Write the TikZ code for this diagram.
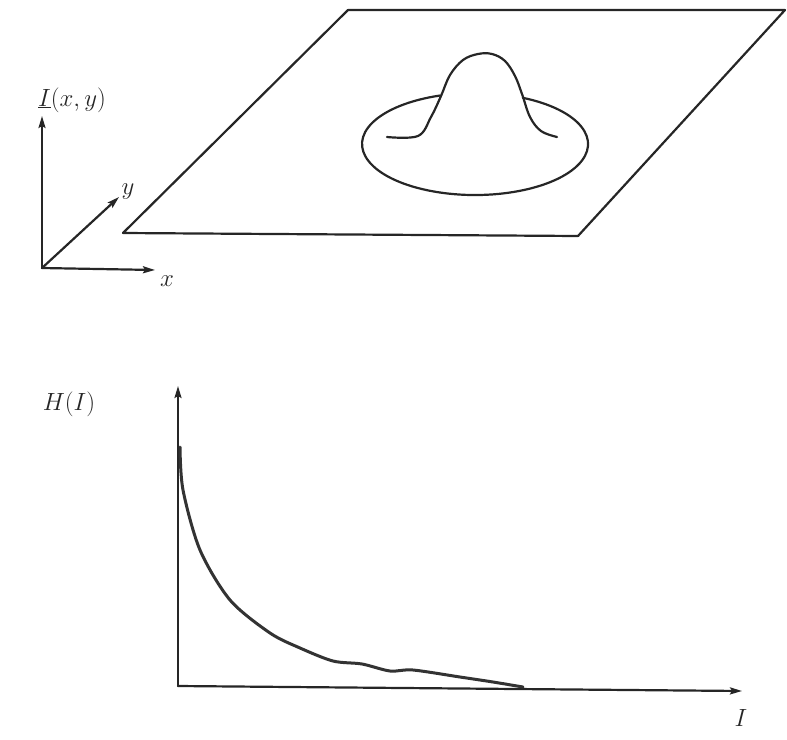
\documentclass[tikz,border=0pt]{standalone}
\usetikzlibrary{arrows.meta}
\begin{document}
\begin{tikzpicture}[x=1pt,y=-1pt,line join = round, line cap = round, >={Stealth[length=12pt,width=7pt,inset=2pt]}, scale=1]
                \tikzset{ln/.style={line width=2.2pt,draw=black!85},
                         crv/.style={line width=3pt,draw=black!80},
                         lbl/.style={font=\fontsize{26}{30}\selectfont,text=black!85,inner sep=0pt}}
                \useasboundingbox (0,0) rectangle (787,739);
                
                % surface with the blob
                \path(123,233)coordinate(P1) (348,10)coordinate(P2) (785,10)coordinate(P3) (578,236)coordinate(P4);
                \draw[ln](P1)--(P2)--(P3)--(P4)--cycle;
                \path(522.8,97.8)coordinate(E0);
                \draw[ln](E0)arc[start angle=-65,end angle=252,x radius=113,y radius=51];
                \draw[ln]plot[smooth,tension=0.6]coordinates{(387,137)(418,136)(431,117)(441,96)(450,75)(463,60)(478,54)(492,54)(505,61)(515,76)(522,94)(530,117)(541,131)(557,137)};
                
                % axes of the image
                \path(42,268)coordinate(O)(42,116)coordinate(Z)(119,197)coordinate(Yt)(155,270)coordinate(Xt);
                \foreach \t in {Z,Yt,Xt}{
                    \draw[ln,->](O)--(\t);	}
                \node[lbl](zlab)at(72,100){$\underline{I}(x,y)$};
                \node[lbl](ylab)at(128,192){$y$};
                \node[lbl](xlab)at(167,281){$x$};
                
                % histogram
                \path(178,686)coordinate(A0)(178,386)coordinate(At)(742,691)coordinate(Bt);
                \foreach \t in {At,Bt}{
                    \draw[ln,->](A0)--(\t);	}
                \draw[crv]plot[smooth,tension=0.5]coordinates{(180,447)(183,490)(200,550)(230,600)(270,633)(300,648)(333,661)(362,664)(390,671)(413,670)(460,677)(493,682)(523,687)};
                \node[lbl](hlab)at(69,404){$H(I)$};
                \node[lbl](ilab)at(741,718){$I$};
            \end{tikzpicture}
\end{document}
